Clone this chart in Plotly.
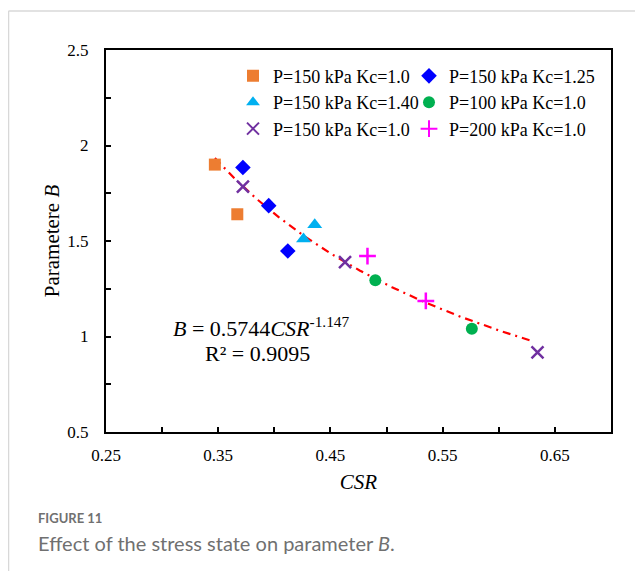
import numpy as np
import plotly.graph_objects as go

# ---- data ----
sq_x = [0.347, 0.367]; sq_y = [1.90, 1.64]                  # P=150 kPa Kc=1.0 (square)
di_x = [0.372, 0.395, 0.412]; di_y = [1.885, 1.685, 1.448]  # P=150 kPa Kc=1.25
tr_x = [0.436, 0.426]; tr_y = [1.585, 1.51]                 # P=150 kPa Kc=1.40
ci_x = [0.490, 0.576]; ci_y = [1.294, 1.041]                # P=100 kPa Kc=1.0
xx_x = [0.372, 0.463, 0.6345]; xx_y = [1.785, 1.39, 0.917]  # P=150 kPa Kc=1.0 (x)
pl_x = [0.483, 0.535]; pl_y = [1.421, 1.186]                # P=200 kPa Kc=1.0

# power-law trendline shown on the chart: B = 0.5744 * CSR^-1.147
fit_a = 0.5744
fit_b = -1.147
fit_x_start, fit_x_end = 0.347, 0.630

x_tickvals = [0.25, 0.35, 0.45, 0.55, 0.65]
x_ticktext = ["0.25", "0.35", "0.45", "0.55", "0.65"]
x_minorvals = [0.30, 0.40, 0.50, 0.60]
y_tickvals = [0.5, 1.0, 1.5, 2.0, 2.5]
y_ticktext = ["0.5", "1", "1.5", "2", "2.5"]
y_minorvals = [0.75, 1.25, 1.75, 2.25]

SERIF = "Liberation Serif"
SANS = "Lato, Noto Sans, sans-serif"

fig = go.Figure()

# name, x, y, symbol, colour, size, line width, legend column
series = [
    ("P=150 kPa Kc=1.0", sq_x, sq_y, "square", "#ED7D31", 12, None, "legend"),
    ("P=150 kPa Kc=1.25", di_x, di_y, "diamond", "#0000FF", 12, None, "legend2"),
    ("P=150 kPa Kc=1.40", tr_x, tr_y, "triangle-up", "#00B0F0", 13, None, "legend"),
    ("P=100 kPa Kc=1.0", ci_x, ci_y, "circle", "#00B050", 12, None, "legend2"),
    ("P=150 kPa Kc=1.0", xx_x, xx_y, "x-thin", "#7030A0", 12, 2.5, "legend"),
    ("P=200 kPa Kc=1.0", pl_x, pl_y, "cross-thin", "#FF00FF", 12, 2.5, "legend2"),
]

fx = np.linspace(fit_x_start, fit_x_end, 200)
fy = fit_a * fx ** fit_b
fig.add_trace(go.Scatter(x=fx, y=fy, mode="lines", showlegend=False,
                         line=dict(color="#FF0000", width=2.2, dash="8px,5px,2px,5px")))

for name, xs, ys, sym, col, size, lw, leg in series:
    marker = dict(symbol=sym, color=col, size=size)
    if lw:
        marker["line"] = dict(color=col, width=lw)
    fig.add_trace(go.Scatter(x=xs, y=ys, mode="markers", name=name, marker=marker, legend=leg))

legend_common = dict(orientation="v", yanchor="top", xanchor="left", y=0.98,
                     font=dict(family=SERIF, size=18, color="black"),
                     bgcolor="rgba(0,0,0,0)", tracegroupgap=0, itemsizing="constant")

tick_style = dict(ticks="inside", ticklen=5, tickwidth=1.5, tickcolor="black",
                  showline=True, linecolor="black", linewidth=2, mirror=True,
                  showgrid=False, zeroline=False,
                  tickfont=dict(family=SERIF, size=17, color="black"))

fig.update_layout(
    width=643, height=571,
    margin=dict(l=98, r=40, t=42, b=147),
    paper_bgcolor="white", plot_bgcolor="white",
    font=dict(family=SERIF, size=17, color="black"),
    showlegend=True,
    legend=dict(x=(233 - 106) / 505, **legend_common),
    legend2=dict(x=(409 - 106) / 505, **legend_common),
    xaxis=dict(range=[0.25, 0.70], tickmode="array", tickvals=x_tickvals, ticktext=x_ticktext,
               minor=dict(tickmode="array", tickvals=x_minorvals, ticks="inside", ticklen=5,
                          tickwidth=1.5, tickcolor="black", showgrid=False),
               ticklabelstandoff=7,
               title=dict(text="<i>CSR</i>", font=dict(family=SERIF, size=21), standoff=10),
               **tick_style),
    yaxis=dict(range=[0.5, 2.5], tickmode="array", tickvals=y_tickvals, ticktext=y_ticktext,
               minor=dict(tickmode="array", tickvals=y_minorvals, ticks="inside", ticklen=5,
                          tickwidth=1.5, tickcolor="black", showgrid=False),
               ticklabelstandoff=12,
               title=dict(text="Parametere <i>B</i>", font=dict(family=SERIF, size=21), standoff=2),
               **tick_style),
    annotations=[
        dict(text="<i>B</i> = 0.5744<i>CSR</i><sup>-1.147</sup>", x=(171 - 106) / 505,
             y=(432 - 327) / 382, xref="paper", yref="paper", xanchor="left", yanchor="middle",
             showarrow=False, font=dict(family=SERIF, size=22)),
        dict(text="R² = 0.9095", x=(203 - 106) / 505, y=(432 - 353) / 382,
             xref="paper", yref="paper", xanchor="left", yanchor="middle", showarrow=False,
             font=dict(family=SERIF, size=22)),
        dict(text="<b>FIGURE 11</b>", x=(36 - 106) / 505, y=(432 - 518) / 382,
             xref="paper", yref="paper", xanchor="left", yanchor="middle",
             showarrow=False, font=dict(family=SANS, size=13, color="#707070")),
        dict(text="Effect of the stress state on parameter <i>B</i>.", x=(36 - 106) / 505,
             y=(432 - 543) / 382, xref="paper", yref="paper", xanchor="left", yanchor="middle",
             showarrow=False, font=dict(family=SANS, size=20, color="#707070")),
    ],
    shapes=[
        dict(type="line", xref="paper", yref="paper", x0=(8.5 - 106) / 505, x1=(660 - 106) / 505,
             y0=(432 - 11) / 382, y1=(432 - 11) / 382, line=dict(color="#D8D8D8", width=1.5)),
        dict(type="line", xref="paper", yref="paper", x0=(8.5 - 106) / 505, x1=(8.5 - 106) / 505,
             y0=(432 - 11) / 382, y1=(432 - 580) / 382, line=dict(color="#D8D8D8", width=1.5)),
    ],
)

fig.write_html("out.html")
